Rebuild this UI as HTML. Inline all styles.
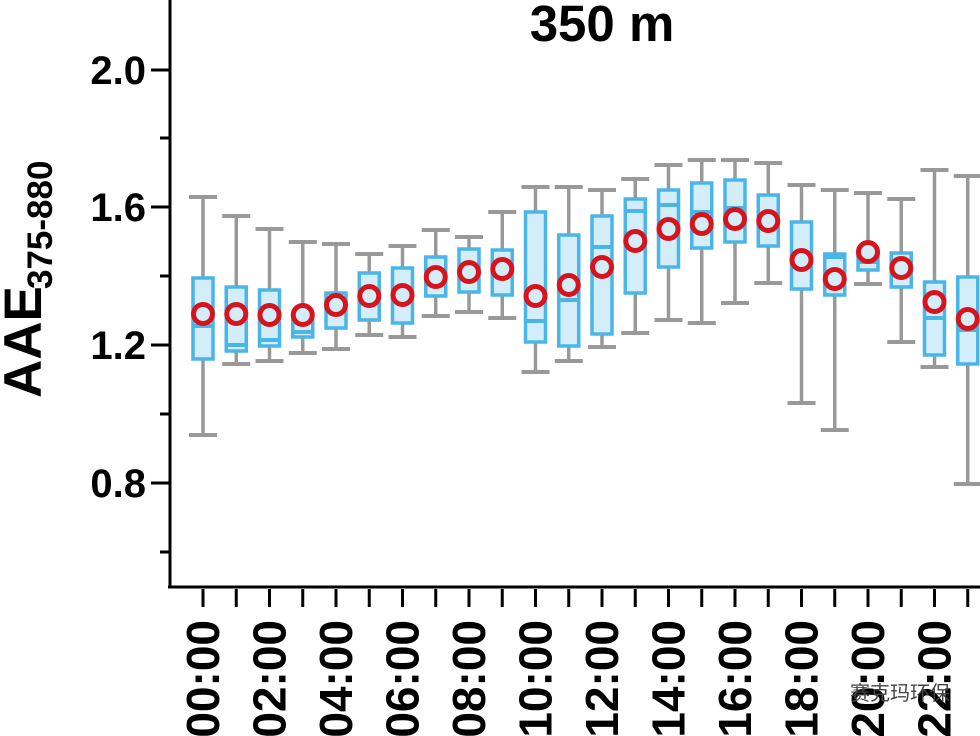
<!DOCTYPE html>
<html><head><meta charset="utf-8"><style>
html,body{margin:0;padding:0;background:#fff;}
svg{display:block;font-family:"Liberation Sans",Arial,sans-serif;font-weight:bold;}
</style></head><body>
<svg width="980" height="736" viewBox="0 0 980 736" xmlns="http://www.w3.org/2000/svg">
<text x="602" y="41" font-size="51" text-anchor="middle">350 m</text>
<g stroke="#000" stroke-width="3">
<line x1="170" y1="0" x2="170" y2="588"/>
<line x1="168" y1="587" x2="980" y2="587"/>
<line x1="151" y1="70" x2="170" y2="70"/>
<line x1="151" y1="207" x2="170" y2="207"/>
<line x1="151" y1="345" x2="170" y2="345"/>
<line x1="151" y1="483" x2="170" y2="483"/>
<line x1="160" y1="138" x2="170" y2="138"/>
<line x1="160" y1="276" x2="170" y2="276"/>
<line x1="160" y1="414" x2="170" y2="414"/>
<line x1="160" y1="552" x2="170" y2="552"/>
</g>
<g font-size="40" text-anchor="end">
<text x="146" y="84">2.0</text>
<text x="146" y="221">1.6</text>
<text x="146" y="359">1.2</text>
<text x="146" y="497">0.8</text>
</g>
<text transform="translate(41,398) rotate(-90)" font-size="53">AAE</text>
<text transform="translate(52,289) rotate(-90)" font-size="35">375-880</text>
<g id="plot"></g>
<g id="xt"></g>
<text x="950" y="700" font-size="20" font-weight="normal" fill="#444" text-anchor="end" font-family="'Liberation Sans','Noto Sans CJK SC',sans-serif">赛克玛环保</text>
<script>
var d=[[197,278,326,359,435,314],[216,287,345,351,364,314],[229,290,340,346,361,315],[242,317,332,337,353,315],[244,293,307,328,349,305],[254,273,296,320,335,296],[246,268,295,323,337,295],[230,257,278,296,316,277],[237,249,272,292,312,272],[212,250,270,295,318,269],[187,212,321,342,372,296],[187,235,300,346,361,285],[190,216,247,334,347,267],[179,199,211,293,333,241],[165,190,205,267,320,229],[160,183,212,248,323,224],[160,180,208,242,303,219],[163,195,220,246,283,221],[185,222,259,289,403,260],[190,254,257,295,430,279],[193,252,262,270,284,252],[199,253,266,287,342,268],[170,282,318,355,367,302],[176,277,330,364,484,319]];
var ns="http://www.w3.org/2000/svg",p=document.getElementById("plot"),xt=document.getElementById("xt");
function el(t,a,par){var e=document.createElementNS(ns,t);for(var k in a)e.setAttribute(k,a[k]);(par||p).appendChild(e);return e;}
for(var i=0;i<24;i++){var x=203+i*33.25,v=d[i];
el("line",{x1:x,y1:v[0],x2:x,y2:v[4],stroke:"#999","stroke-width":3.5});
el("line",{x1:x-14,y1:v[0],x2:x+14,y2:v[0],stroke:"#999","stroke-width":4});
el("line",{x1:x-14,y1:v[4],x2:x+14,y2:v[4],stroke:"#999","stroke-width":4});
el("rect",{x:x-10,y:v[1],width:20,height:v[3]-v[1],fill:"#d3eefa",stroke:"#4ab6e8","stroke-width":3.5});
el("line",{x1:x-10,y1:v[2],x2:x+10,y2:v[2],stroke:"#4ab6e8","stroke-width":4});
el("circle",{cx:x,cy:v[5],r:9.5,fill:"#d3eefa",stroke:"#d7141c","stroke-width":5});
el("line",{x1:x,y1:589,x2:x,y2:607,stroke:"#000","stroke-width":3},xt);
if(i%2==0){var t=el("text",{transform:"translate("+(x+16)+",620) rotate(-90)","font-size":"46","text-anchor":"end"},xt);t.textContent=(i<10?"0":"")+i+":00";}
}
</script>
</svg>
</body></html>
